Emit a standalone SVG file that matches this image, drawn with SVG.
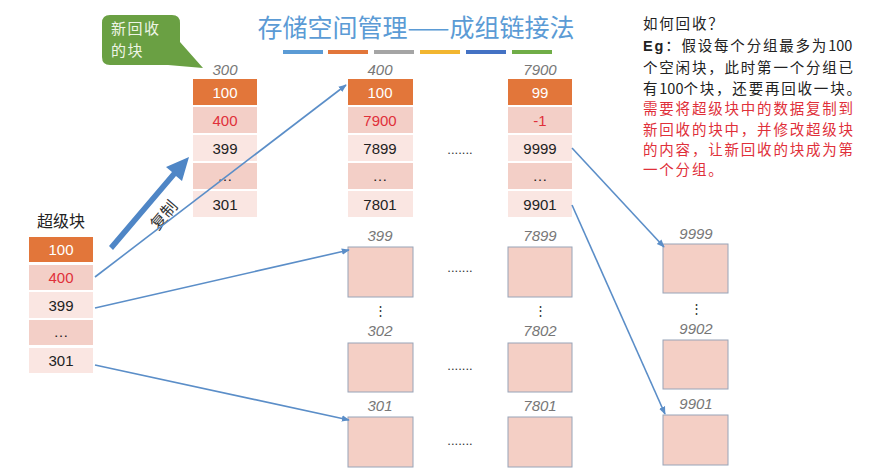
<svg xmlns="http://www.w3.org/2000/svg" width="869" height="471" viewBox="0 0 869 471">
<defs>
<style>
text{font-family:"Liberation Sans","Noto Sans CJK SC",sans-serif}
.cjk{font-family:"Noto Sans CJK SC","Liberation Sans",sans-serif}
.c{font-size:15px;text-anchor:middle;fill:#222}
.w{fill:#fff}
.r{fill:#e0303a}
.lab{font-size:15px;font-style:italic;fill:#777;text-anchor:middle}
.o{fill:#e2763a}
.p{fill:#f3cfc7}
.l{fill:#fae6e2}
.box{fill:#f4cfc5;stroke:#98a4b8;stroke-width:1}
.dots{font-size:13px;fill:#333;text-anchor:middle}
.conn{stroke:#5b8ec8;stroke-width:1.6;fill:none;marker-end:url(#ah)}
.t{font-size:14.5px;letter-spacing:1.8px;fill:#222}
.tr{font-size:14.5px;letter-spacing:1.8px;fill:#e0303a}
.n{letter-spacing:0}
</style>
<marker id="ah" viewBox="0 0 10 10" refX="9" refY="5" markerWidth="5" markerHeight="5" orient="auto"><path d="M0,1 L10,5 L0,9 z" fill="#5b8ec8"/></marker>
</defs>
<rect width="869" height="471" fill="#fff"/>

<g id="title">
<text x="416" y="37" class="cjk" font-size="25" fill="#5b9bd5" text-anchor="middle">存储空间管理——成组链接法</text>
<rect x="283" y="50" width="40" height="4" fill="#5b9bd5"/>
<rect x="328" y="50" width="40" height="4" fill="#e2763a"/>
<rect x="374" y="50" width="40" height="4" fill="#a5a5a5"/>
<rect x="420" y="50" width="40" height="4" fill="#f2b630"/>
<rect x="466" y="50" width="40" height="4" fill="#4472c4"/>
<rect x="512" y="50" width="40" height="4" fill="#70ad47"/>
</g>

<g id="callout">
<path d="M110,15 H172 Q180,15 180,23 V42 L203,68 L168,65 H110 Q102,65 102,57 V23 Q102,15 110,15 Z" fill="#6aa043"/>
<text x="111" y="34" class="cjk" font-size="15" letter-spacing="1.5" fill="#eef5e6">新回收</text>
<text x="111" y="56" class="cjk" font-size="15" letter-spacing="1.5" fill="#eef5e6">的块</text>
</g>

<g id="col300">
<text x="225" y="75" class="lab">300</text>
<rect x="193" y="79" width="64" height="26" class="o"/><text x="225" y="98" class="c w">100</text>
<rect x="193" y="107" width="64" height="26" class="p"/><text x="225" y="126" class="c r">400</text>
<rect x="193" y="135" width="64" height="26" class="l"/><text x="225" y="154" class="c">399</text>
<rect x="193" y="163" width="64" height="26" class="p"/><text x="225" y="181" class="c">…</text>
<rect x="193" y="191" width="64" height="26" class="l"/><text x="225" y="210" class="c">301</text>
</g>

<g id="col400">
<text x="380" y="75" class="lab">400</text>
<rect x="348" y="79" width="65" height="26" class="o"/><text x="380" y="98" class="c w">100</text>
<rect x="348" y="107" width="65" height="26" class="p"/><text x="380" y="126" class="c r">7900</text>
<rect x="348" y="135" width="65" height="26" class="l"/><text x="380" y="154" class="c">7899</text>
<rect x="348" y="163" width="65" height="26" class="p"/><text x="380" y="181" class="c">…</text>
<rect x="348" y="191" width="65" height="26" class="l"/><text x="380" y="210" class="c">7801</text>
</g>

<g id="col7900">
<text x="540" y="75" class="lab">7900</text>
<rect x="508" y="79" width="64" height="26" class="o"/><text x="540" y="98" class="c w">99</text>
<rect x="508" y="107" width="64" height="26" class="p"/><text x="540" y="126" class="c r">-1</text>
<rect x="508" y="135" width="64" height="26" class="l"/><text x="540" y="154" class="c">9999</text>
<rect x="508" y="163" width="64" height="26" class="p"/><text x="540" y="181" class="c">…</text>
<rect x="508" y="191" width="64" height="26" class="l"/><text x="540" y="210" class="c">9901</text>
</g>

<g id="superblock">
<text x="61" y="227" class="cjk" font-size="16" fill="#222" text-anchor="middle">超级块</text>
<rect x="29" y="237" width="64" height="25" class="o"/><text x="61" y="255" class="c w">100</text>
<rect x="29" y="265" width="64" height="25" class="p"/><text x="61" y="283" class="c r">400</text>
<rect x="29" y="292" width="64" height="26" class="l"/><text x="61" y="311" class="c">399</text>
<rect x="29" y="320" width="64" height="25" class="p"/><text x="61" y="337" class="c">…</text>
<rect x="29" y="348" width="64" height="25" class="l"/><text x="61" y="366" class="c">301</text>
</g>

<g id="copy">
<path d="M109,246 L172,172 L166,167 L189,157 L182,181 L176,176 L113,250 Z" fill="#4f86c6"/>
<text x="0" y="0" class="cjk" font-size="16" fill="#333" transform="translate(158,231) rotate(-50)">复制</text>
</g>

<g id="boxes">
<text x="380" y="241" class="lab">399</text>
<rect x="348" y="247" width="65" height="50" class="box"/>
<text x="380" y="315" class="dots">⋮</text>
<text x="380" y="336" class="lab">302</text>
<rect x="348" y="343" width="65" height="49" class="box"/>
<text x="380" y="411" class="lab">301</text>
<rect x="348" y="417" width="65" height="50" class="box"/>

<text x="540" y="241" class="lab">7899</text>
<rect x="508" y="247" width="64" height="50" class="box"/>
<text x="540" y="315" class="dots">⋮</text>
<text x="540" y="336" class="lab">7802</text>
<rect x="508" y="343" width="64" height="49" class="box"/>
<text x="540" y="411" class="lab">7801</text>
<rect x="508" y="417" width="64" height="50" class="box"/>

<text x="696" y="239" class="lab">9999</text>
<rect x="663" y="244" width="65" height="49" class="box"/>
<text x="696" y="313" class="dots">⋮</text>
<text x="696" y="334" class="lab">9902</text>
<rect x="663" y="340" width="65" height="49" class="box"/>
<text x="696" y="409" class="lab">9901</text>
<rect x="663" y="415" width="65" height="50" class="box"/>
</g>

<g id="ellipses">
<text x="460" y="154" class="dots">.......</text>
<text x="460" y="272" class="dots">.......</text>
<text x="460" y="370" class="dots">.......</text>
<text x="460" y="445" class="dots">.......</text>
</g>

<g id="connectors">
<path class="conn" d="M95,277 L346,85"/>
<path class="conn" d="M95,308 L349,250"/>
<path class="conn" d="M95,365 L349,420"/>
<path class="conn" d="M572,148 L664,247"/>
<path class="conn" d="M572,205 L665,414"/>
</g>

<g id="note">
<text x="643" y="29" class="t cjk">如何回收？</text>
<text x="643" y="51" class="t cjk"><tspan font-weight="bold" font-family="Liberation Sans">Eg</tspan>：假设每个分组最多为<tspan class="n">100</tspan></text>
<text x="643" y="73" class="t cjk">个空闲块，此时第一个分组已</text>
<text x="643" y="94" class="t cjk">有<tspan class="n">100</tspan>个块，还要再回收一块。</text>
<text x="643" y="114" class="tr cjk">需要将超级块中的数据复制到</text>
<text x="643" y="135" class="tr cjk">新回收的块中，并修改超级块</text>
<text x="643" y="155" class="tr cjk">的内容，让新回收的块成为第</text>
<text x="643" y="175" class="tr cjk">一个分组。</text>
</g>
</svg>
